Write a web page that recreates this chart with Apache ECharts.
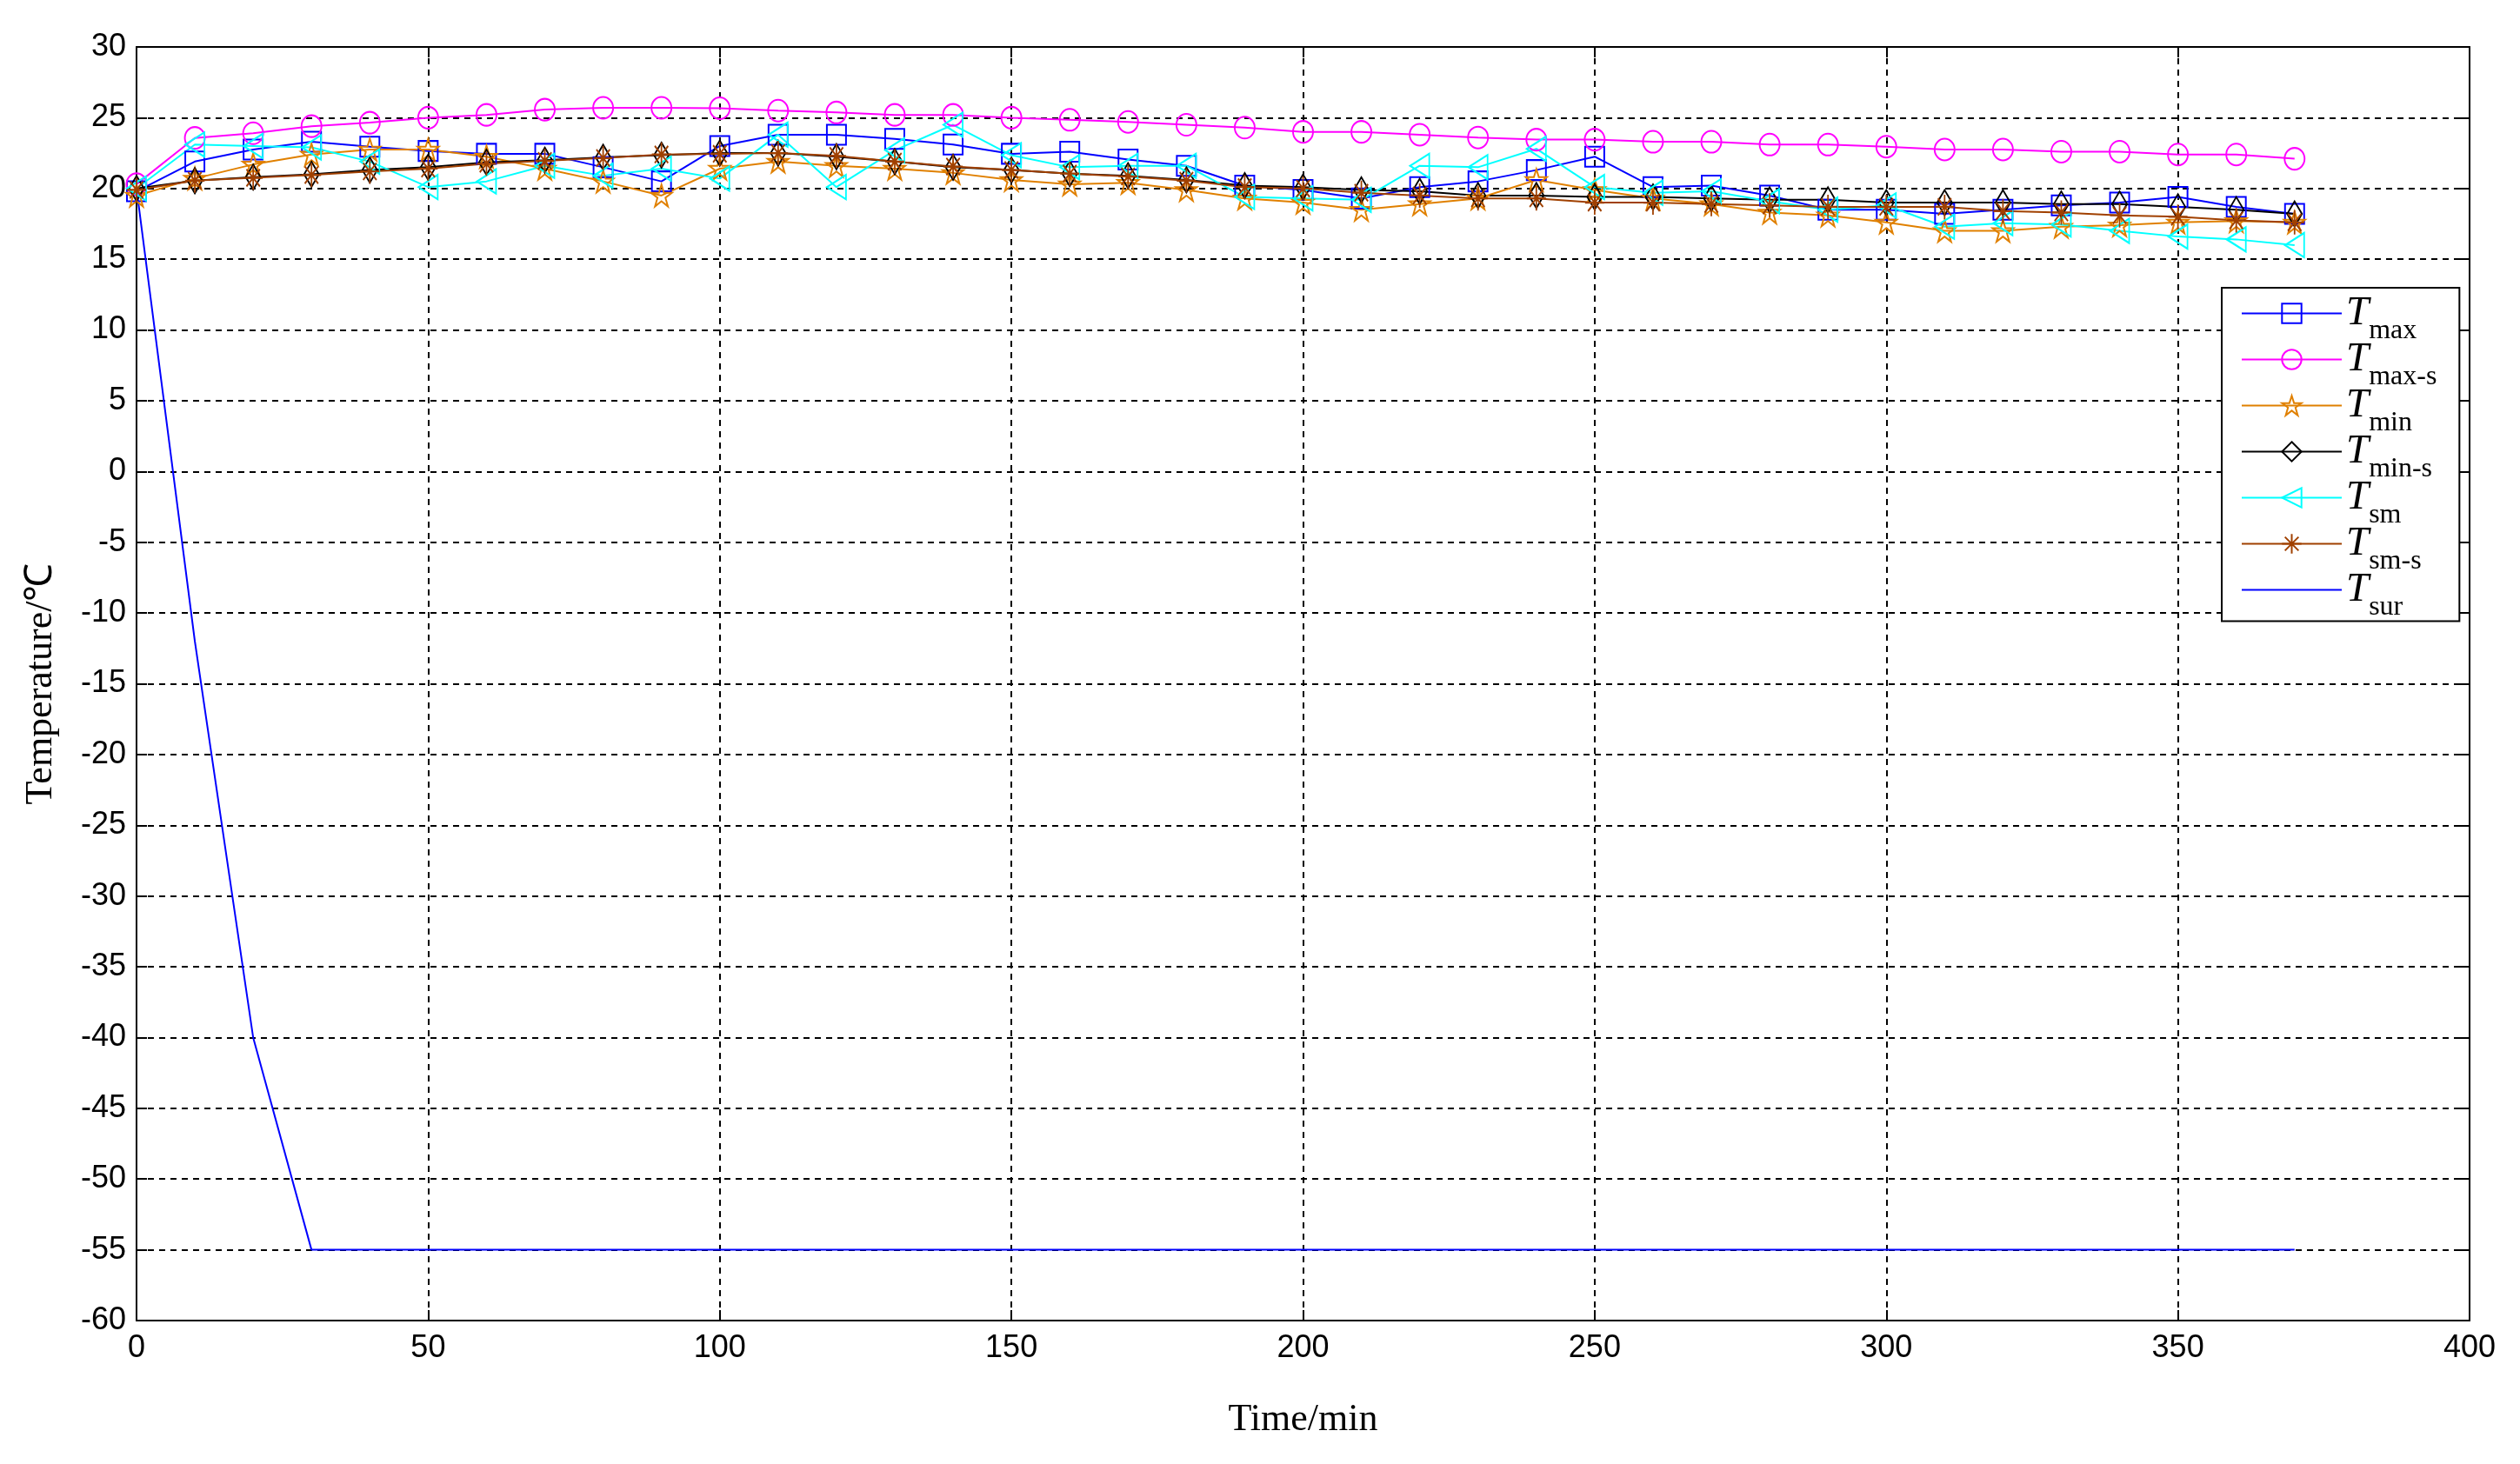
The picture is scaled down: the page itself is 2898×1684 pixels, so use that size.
<!DOCTYPE html>
<html>
<head>
<meta charset="utf-8">
<script src="https://cdn.jsdelivr.net/npm/echarts@6/dist/echarts.min.js"></script>
<style>
html,body{margin:0;padding:0;background:#fff;}
#chart{width:2898px;height:1684px;}
</style>
</head>
<body>
<div id="chart"></div>
<script>
// ---- data ----
const times = [0,10,20,30,40,50,60,70,80,90,100,110,120,130,140,150,160,170,180,190,200,210,220,230,240,250,260,270,280,290,300,310,320,330,340,350,360,370];
const tMax  = [19.8,21.9,22.75,23.3,22.95,22.65,22.45,22.45,21.5,20.5,23.0,23.8,23.8,23.5,23.1,22.45,22.6,22.05,21.6,20.2,19.9,19.3,20.1,20.5,21.3,22.25,20.1,20.2,19.5,18.5,18.5,18.2,18.5,18.8,19.0,19.4,18.7,18.2];
const tMaxS = [20.3,23.57,23.9,24.4,24.65,25.0,25.2,25.57,25.7,25.7,25.67,25.5,25.37,25.2,25.2,25.0,24.85,24.7,24.5,24.3,24.0,24.0,23.8,23.6,23.45,23.45,23.3,23.3,23.1,23.1,22.95,22.75,22.75,22.6,22.6,22.4,22.4,22.1];
const tMin  = [19.5,20.7,21.7,22.4,22.75,22.75,22.25,21.4,20.5,19.5,21.4,21.9,21.6,21.4,21.1,20.6,20.3,20.4,19.9,19.3,19.0,18.5,18.9,19.3,20.6,19.9,19.3,18.9,18.3,18.1,17.6,17.0,17.0,17.3,17.4,17.6,17.7,17.6];
const tMinS = [20.0,20.55,20.8,21.0,21.3,21.5,21.85,22.0,22.2,22.35,22.5,22.5,22.25,21.9,21.5,21.3,21.05,20.9,20.6,20.2,20.1,19.9,19.8,19.5,19.5,19.4,19.4,19.3,19.2,19.2,19.0,19.0,19.0,18.9,18.9,18.7,18.5,18.2];
const tSm   = [20.0,23.1,23.0,22.9,21.9,20.1,20.5,21.6,20.9,21.4,20.7,23.8,20.1,22.7,24.5,22.35,21.5,21.6,21.6,19.4,19.3,19.2,21.6,21.5,22.8,20.1,19.7,19.8,19.1,18.5,18.8,17.3,17.55,17.45,17.0,16.6,16.4,16.0];
const tSmS  = [19.9,20.55,20.75,20.95,21.2,21.4,21.75,21.95,22.15,22.4,22.45,22.5,22.3,21.9,21.55,21.3,21.05,20.85,20.55,20.1,20.0,19.7,19.5,19.3,19.3,19.0,19.0,18.9,18.8,18.7,18.7,18.7,18.4,18.3,18.1,18.0,17.75,17.6];
const tSur  = [20,-12,-40,-55,-55,-55,-55,-55,-55,-55,-55,-55,-55,-55,-55,-55,-55,-55,-55,-55,-55,-55,-55,-55,-55,-55,-55,-55,-55,-55,-55,-55,-55,-55,-55,-55,-55,-55];

const seriesNames = ['Tmax','Tmax-s','Tmin','Tmin-s','Tsm','Tsm-s','Tsur'];
const xTicks = {min:0, max:400, interval:50};
const yTicks = {min:-60, max:30, interval:5};
const xName = 'Time/min';
const yName = 'Temperature/\u2103';

// ---- chart ----
function pairs(arr){ return times.map((t,i)=>[t, arr[i]]); }

const SYM_STAR = 'path://M50,0 L61.8,35.4 L100,35.4 L69.1,57.3 L80.9,95.1 L50,72.4 L19.1,95.1 L30.9,57.3 L0,35.4 L38.2,35.4 Z';
const SYM_AST = 'path://M50,0 L50,100 M0,50 L100,50 M15,15 L85,85 M85,15 L15,85';
const SYM_TRI_L = 'path://M0,50 L100,0 L100,100 Z';

function mk(name, arr, color, symbol, size){
  return {
    name: name, type:'line', data: pairs(arr),
    symbol: symbol, symbolSize: size, showAllSymbol: true,
    lineStyle: {color: color, width: 2},
    itemStyle: {color: 'rgba(0,0,0,0)', borderColor: color, borderWidth: 2},
    emphasis: {disabled: true},
    animation: false
  };
}

const series = [
  mk(seriesNames[0], tMax, '#0000ff', 'rect', [22,23]),
  mk(seriesNames[1], tMaxS, '#ff00ff', 'circle', [23,25]),
  mk(seriesNames[2], tMin, '#e08000', SYM_STAR, [24,25]),
  mk(seriesNames[3], tMinS, '#000000', 'diamond', [17,29]),
  mk(seriesNames[4], tSm, '#00ffff', SYM_TRI_L, [22,28]),
  mk(seriesNames[5], tSmS, '#a04000', SYM_AST, [22,28]),
  {
    name: seriesNames[6], type:'line', data: pairs(tSur), symbol:'none',
    lineStyle:{color:'#0000ff', width:2},
    itemStyle:{color:'rgba(0,0,0,0)', borderColor:'rgba(0,0,0,0)', borderWidth:0},
    emphasis:{disabled:true}, animation:false
  }
];

const subs = {'Tmax':'max','Tmax-s':'max-s','Tmin':'min','Tmin-s':'min-s','Tsm':'sm','Tsm-s':'sm-s','Tsur':'sur'};

const labelFont = {fontFamily:'Liberation Sans, Arial', fontSize:36, color:'#000'};
const gridDash = {color:'#000', width:2, type:[7,6]};

const option = {
  backgroundColor:'#fff',
  animation:false,
  grid:{left:157, right:58, top:54, bottom:165, containLabel:false},
  xAxis:[{
    type:'value', min:xTicks.min, max:xTicks.max, interval:xTicks.interval,
    position:'bottom',
    name:xName, nameLocation:'middle', nameGap:92,
    nameTextStyle:{fontFamily:'Liberation Serif, Times New Roman', fontSize:44, color:'#000'},
    axisLine:{show:true, onZero:false, lineStyle:{color:'#000', width:2}},
    axisTick:{show:true, inside:true, length:12, lineStyle:{color:'#000', width:2}},
    axisLabel:Object.assign({margin:14}, labelFont),
    splitLine:{show:true, lineStyle:gridDash}
  },{
    type:'value', min:xTicks.min, max:xTicks.max, interval:xTicks.interval,
    position:'top',
    axisLine:{show:true, onZero:false, lineStyle:{color:'#000', width:2}},
    axisTick:{show:true, inside:true, length:12, lineStyle:{color:'#000', width:2}},
    axisLabel:{show:false}, splitLine:{show:false}
  }],
  yAxis:[{
    type:'value', min:yTicks.min, max:yTicks.max, interval:yTicks.interval,
    position:'left',
    name:yName, nameLocation:'middle', nameGap:88, nameRotate:90,
    nameTextStyle:{fontFamily:'Liberation Serif, Times New Roman', fontSize:44, color:'#000'},
    axisLine:{show:true, onZero:false, lineStyle:{color:'#000', width:2}},
    axisTick:{show:true, inside:true, length:12, lineStyle:{color:'#000', width:2}},
    axisLabel:Object.assign({margin:12}, labelFont),
    splitLine:{show:true, lineStyle:gridDash}
  },{
    type:'value', min:yTicks.min, max:yTicks.max, interval:yTicks.interval,
    position:'right',
    axisLine:{show:true, onZero:false, lineStyle:{color:'#000', width:2}},
    axisTick:{show:true, inside:true, length:12, lineStyle:{color:'#000', width:2}},
    axisLabel:{show:false}, splitLine:{show:false}
  }],
  legend:{
    data: seriesNames,
    orient:'vertical', left:2555, top:331,
    padding:[6,26,0,22],
    itemGap:-6.5, itemWidth:115, itemHeight:28, itemTextGap:40,
    backgroundColor:'#fff', borderColor:'#000', borderWidth:2,
    selectedMode:false,
    formatter: function(name){ return '{T|T}{s|' + subs[name] + '}'; },
    textStyle:{
      rich:{
        T:{fontFamily:'Liberation Serif, Times New Roman', fontStyle:'italic', fontSize:47, lineHeight:44, color:'#000'},
        s:{fontFamily:'Liberation Serif, Times New Roman', fontSize:32, lineHeight:20, padding:[26,0,0,0], verticalAlign:'top', color:'#000'}
      }
    }
  },
  series: series
};

const chart = echarts.init(document.getElementById('chart'), null, {renderer:'canvas'});
chart.setOption(option);
</script>
</body>
</html>
